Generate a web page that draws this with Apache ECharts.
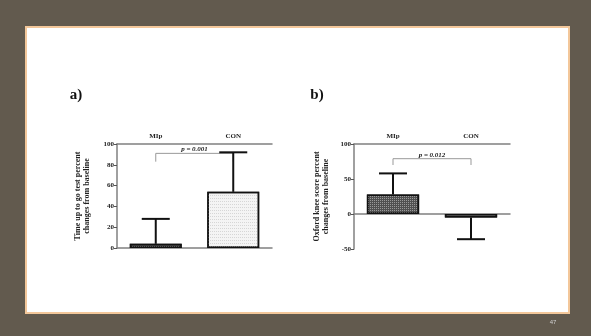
<!DOCTYPE html>
<html><head><meta charset="utf-8">
<script src="https://cdn.jsdelivr.net/npm/echarts@6/dist/echarts.min.js"></script>
<style>html,body{margin:0;padding:0;background:#625a4e}#c{width:591px;height:336px}</style>
</head><body><div id="c"></div>
<script>
const categories = ['MIp', 'CON'];
const aValues = [4, 54];
const aErrors = [24, 38];
const bValues = [28, -5];
const bErrors = [30, -31];
const aTicks = [0, 20, 40, 60, 80, 100];
const bTicks = [-50, 0, 50, 100];
const aP = 'p = 0.001';
const bP = 'p = 0.012';
const aBracket = [91, 83, 95];
const bBracket = [79, 70, 84];

const serif = '"Liberation Serif","DejaVu Serif",serif';
const chart = echarts.init(document.getElementById('c'));

const darkFill = {color: '#505050', decal: {symbol: 'rect', symbolSize: 1, dashArrayX: [1, 1], dashArrayY: [1, 1], color: '#999999'}};
const lightFill = {color: '#f4f4f4', decal: {symbol: 'rect', symbolSize: 1, dashArrayX: [1, 1], dashArrayY: [1, 2], color: '#d6d6d6'}};

function errSeries(gi, vals, errs) {
  return {
    type: 'custom', xAxisIndex: gi * 2, yAxisIndex: gi, z: 5,
    data: categories.map((c, i) => [i, vals[i], vals[i] + errs[i]]),
    renderItem: (params, api) => {
      const p0 = api.coord([api.value(0), api.value(1)]);
      const p1 = api.coord([api.value(0), api.value(2)]);
      const hw = 14;
      const st = {stroke: '#111', lineWidth: 2};
      return {type: 'group', children: [
        {type: 'line', shape: {x1: p0[0], y1: p0[1], x2: p1[0], y2: p1[1]}, style: st},
        {type: 'line', shape: {x1: p1[0] - hw, y1: p1[1], x2: p1[0] + hw, y2: p1[1]}, style: st}
      ]};
    }
  };
}
function bracketSeries(gi, br, txt) {
  return {
    type: 'custom', xAxisIndex: gi * 2, yAxisIndex: gi, z: 4,
    data: [[0, 1, br[0], br[1], br[2]]],
    renderItem: (params, api) => {
      const a = api.coord([api.value(0), api.value(2)]);
      const b = api.coord([api.value(1), api.value(2)]);
      const lo = api.coord([api.value(0), api.value(3)]);
      const t = api.coord([0, api.value(4)]);
      const st = {stroke: '#999', lineWidth: 1, fill: null};
      return {type: 'group', children: [
        {type: 'polyline', shape: {points: [[a[0], lo[1]], [a[0], a[1]], [b[0], b[1]], [b[0], lo[1]]]}, style: st},
        {type: 'text', x: (a[0] + b[0]) / 2, y: t[1], style: {text: txt, font: 'italic bold 7px ' + serif, fill: '#222', align: 'center', verticalAlign: 'middle'}}
      ]};
    }
  };
}
function xAxes(gi) {
  return [
    {type: 'category', gridIndex: gi, data: categories, position: 'top',
     axisLine: {onZero: false, lineStyle: {color: '#808080', width: 1.5}},
     axisTick: {alignWithLabel: true, length: 3, lineStyle: {color: '#555'}},
     axisLabel: {margin: 4, color: '#222', fontFamily: serif, fontWeight: 'bold', fontSize: 7}},
    {type: 'category', gridIndex: gi, data: categories, position: 'bottom',
     axisLine: {onZero: true, lineStyle: {color: '#808080', width: 1.5}},
     axisTick: {show: false}, axisLabel: {show: false}}
  ];
}
function yAxis(gi, ticks, name, gap) {
  return {type: 'value', gridIndex: gi, min: ticks[0], max: ticks[ticks.length - 1],
    interval: ticks[1] - ticks[0], splitLine: {show: false},
    axisLine: {show: true, lineStyle: {color: '#808080', width: 1.5}},
    axisTick: {show: true, length: 3, lineStyle: {color: '#555'}},
    axisLabel: {margin: 3, color: '#222', fontFamily: serif, fontWeight: 'bold', fontSize: 7},
    name: name, nameLocation: 'middle', nameRotate: 90, nameGap: gap,
    nameTextStyle: {color: '#222', fontFamily: serif, fontWeight: 'bold', fontSize: 8, lineHeight: 9}};
}
function bars(gi, vals) {
  return {type: 'bar', xAxisIndex: gi * 2, yAxisIndex: gi, barWidth: '67%', z: 3,
    data: vals.map((v, i) => ({value: v, itemStyle: Object.assign({borderColor: '#111', borderWidth: 1.5}, i === 0 ? darkFill : lightFill)}))};
}

chart.setOption({
  animation: false,
  aria: {decal: {show: false}},
  graphic: [
    {type: 'rect', shape: {x: 26, y: 27, width: 543, height: 286}, style: {fill: '#fff', stroke: '#f3c79a', lineWidth: 2}, z: -10},
    {type: 'text', x: 76, y: 95, style: {text: 'a)', font: 'bold 15px ' + serif, fill: '#111', align: 'center', verticalAlign: 'middle'}},
    {type: 'text', x: 317, y: 95, style: {text: 'b)', font: 'bold 15px ' + serif, fill: '#111', align: 'center', verticalAlign: 'middle'}},
    {type: 'text', x: 553, y: 322, style: {text: '47', font: '6px sans-serif', fill: '#cfcfcf', align: 'center', verticalAlign: 'middle'}}
  ],
  grid: [
    {left: 117, top: 144, width: 155, height: 104},
    {left: 354, top: 144, width: 156, height: 105}
  ],
  xAxis: [...xAxes(0), ...xAxes(1)],
  yAxis: [
    yAxis(0, aTicks, 'Time up to go test percent\nchanges from baseline', 26),
    yAxis(1, bTicks, 'Oxford knee score percent\nchanges from baseline', 24)
  ],
  series: [
    bars(0, aValues), errSeries(0, aValues, aErrors), bracketSeries(0, aBracket, aP),
    bars(1, bValues), errSeries(1, bValues, bErrors), bracketSeries(1, bBracket, bP)
  ]
});
</script></body></html>
